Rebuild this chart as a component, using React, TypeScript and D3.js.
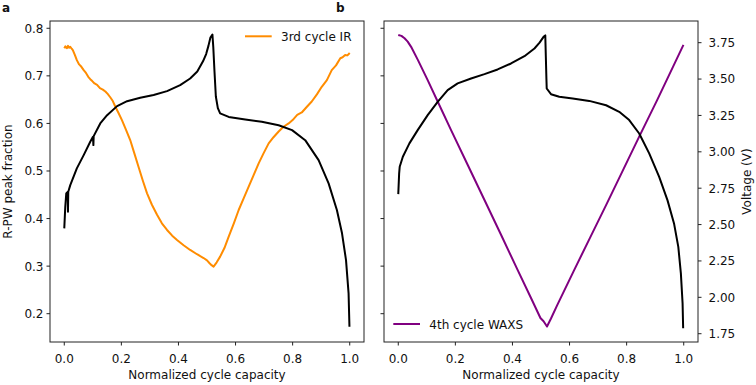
import React from 'react';
import * as d3 from 'd3';

// tick values
const capTicks = [0, 0.2, 0.4, 0.6, 0.8, 1.0];
const fracTicks = [0.2, 0.3, 0.4, 0.5, 0.6, 0.7, 0.8];
const voltTicks = [1.75, 2.0, 2.25, 2.5, 2.75, 3.0, 3.25, 3.5, 3.75];

// panel a: 3rd cycle IR (R-PW peak fraction)
const irCap = [0, 0.004, 0.009, 0.013, 0.017, 0.021, 0.026, 0.03, 0.037, 0.044, 0.052, 0.06, 0.068, 0.076, 0.084, 0.091,
    0.098, 0.106, 0.115, 0.125, 0.135, 0.144, 0.152, 0.161, 0.17, 0.179, 0.19, 0.202, 0.216, 0.231, 0.245, 0.26,
    0.275, 0.29, 0.307, 0.325, 0.342, 0.36, 0.378, 0.395, 0.418, 0.441, 0.465, 0.488, 0.5, 0.509, 0.516, 0.523,
    0.534, 0.546, 0.561, 0.576, 0.594, 0.611, 0.628, 0.646, 0.663, 0.681, 0.698, 0.716, 0.733, 0.751, 0.768, 0.786,
    0.8, 0.816, 0.832, 0.85, 0.867, 0.885, 0.902, 0.92, 0.937, 0.952, 0.967, 0.975, 0.984, 0.992, 1.0];
const irFrac = [0.758, 0.762, 0.758, 0.763, 0.759, 0.761, 0.757, 0.754, 0.744, 0.733, 0.724, 0.719, 0.712, 0.706, 0.698, 0.693,
    0.689, 0.684, 0.681, 0.674, 0.671, 0.667, 0.662, 0.655, 0.647, 0.635, 0.622, 0.607, 0.587, 0.565, 0.538, 0.509,
    0.48, 0.453, 0.429, 0.408, 0.39, 0.376, 0.364, 0.355, 0.344, 0.334, 0.325, 0.317, 0.312, 0.306, 0.302, 0.299,
    0.308, 0.32, 0.338, 0.362, 0.39, 0.418, 0.442, 0.467, 0.491, 0.516, 0.537, 0.558, 0.571, 0.583, 0.593, 0.6,
    0.607, 0.618, 0.623, 0.635, 0.646, 0.661, 0.677, 0.691, 0.712, 0.722, 0.737, 0.739, 0.744, 0.743, 0.748];

// panel a: voltage profile
const v3Cap = [0, 0.0035, 0.007, 0.012, 0.013, 0.014, 0.021, 0.044, 0.068, 0.091, 0.1005, 0.102, 0.103, 0.126, 0.15,
    0.185, 0.22, 0.266, 0.313, 0.36, 0.406, 0.441, 0.466, 0.486, 0.497, 0.505, 0.512, 0.519, 0.522, 0.526, 0.531,
    0.538, 0.546, 0.576, 0.634, 0.692, 0.751, 0.798, 0.844, 0.891, 0.926, 0.955, 0.973, 0.987, 0.996, 0.999];
const v3Volt = [2.474, 2.622, 2.714, 2.725, 2.588, 2.725, 2.771, 2.886, 2.977, 3.069, 3.103, 3.046, 3.108, 3.195, 3.252,
    3.314, 3.348, 3.371, 3.391, 3.417, 3.458, 3.504, 3.552, 3.622, 3.672, 3.728, 3.785, 3.806, 3.72, 3.561, 3.38,
    3.3, 3.264, 3.24, 3.222, 3.206, 3.183, 3.149, 3.08, 2.943, 2.783, 2.6, 2.44, 2.256, 2.027, 1.798];

// panel b: 4th cycle WAXS
const waxsCap = [0, 0.011, 0.022, 0.033, 0.045, 0.069, 0.103, 0.138, 0.185, 0.243, 0.302, 0.36, 0.418, 0.465, 0.498,
    0.509, 0.521, 0.535, 0.556, 0.614, 0.672, 0.731, 0.789, 0.847, 0.906, 0.964, 0.999];
const waxsFrac = [0.786, 0.784, 0.779, 0.772, 0.761, 0.733, 0.691, 0.646, 0.586, 0.513, 0.439, 0.366, 0.292, 0.233, 0.191,
    0.184, 0.173, 0.19, 0.217, 0.289, 0.36, 0.432, 0.504, 0.576, 0.648, 0.721, 0.765];

// panel b: voltage profile
const v4Cap = [0, 0.003, 0.005, 0.016, 0.039, 0.068, 0.103, 0.138, 0.173, 0.208, 0.255, 0.302, 0.348, 0.395, 0.442,
    0.477, 0.495, 0.509, 0.515, 0.517, 0.519, 0.52, 0.535, 0.564, 0.611, 0.669, 0.728, 0.774, 0.809, 0.844, 0.879,
    0.914, 0.943, 0.966, 0.981, 0.99, 0.996, 0.998];
const v4Volt = [2.709, 2.85, 2.897, 2.966, 3.058, 3.149, 3.252, 3.343, 3.424, 3.47, 3.504, 3.534, 3.566, 3.607, 3.657,
    3.71, 3.75, 3.79, 3.8, 3.65, 3.5, 3.435, 3.396, 3.378, 3.367, 3.35, 3.32, 3.275, 3.218, 3.126, 2.989,
    2.828, 2.668, 2.508, 2.347, 2.165, 1.959, 1.787];

const font = '"DejaVu Sans", sans-serif';
const fs = 12;
const top = 21, bottom = 342;

const pairs = (xs: number[], ys: number[]) => d3.range(Math.min(xs.length, ys.length)).map(i => [xs[i], ys[i]] as [number, number]);

const fracScale = d3.scaleLinear().domain([0.1405, 0.8153]).range([bottom, top]);
const voltScale = d3.scaleLinear().domain([1.693, 3.899]).range([bottom, top]);

const Panel = (props: any) => {
    const { left, right, label, fracX, fracY, voltX, voltY, color, legend, legendPos, showFracLabels, showVoltLabels } = props;
    const x = d3.scaleLinear().domain([-0.05, 1.05]).range([left, right]);
    const fracLine = d3.line<[number, number]>().x(d => x(d[0])).y(d => fracScale(d[1]));
    const voltLine = d3.line<[number, number]>().x(d => x(d[0])).y(d => voltScale(d[1]));

    return (
        <g>
            <path d={fracLine(pairs(fracX, fracY)) || ''} fill='none' stroke={color} strokeWidth={2} strokeLinejoin='round' />
            <path d={voltLine(pairs(voltX, voltY)) || ''} fill='none' stroke='black' strokeWidth={2} strokeLinejoin='round' />
            <rect x={left} y={top} width={right - left} height={bottom - top} fill='none' stroke='#222' strokeWidth={1} />

            {capTicks.map(t => (
                <g key={'xt' + t}>
                    <line x1={x(t)} x2={x(t)} y1={bottom} y2={bottom + 3.5} stroke='#222' />
                    <text x={x(t)} y={bottom + 20.5} textAnchor='middle' fontSize={fs} fontFamily={font} fill='#111'>{t.toFixed(1)}</text>
                </g>
            ))}
            {fracTicks.map(t => (
                <g key={'ft' + t}>
                    <line x1={left - 3.5} x2={left} y1={fracScale(t)} y2={fracScale(t)} stroke='#222' />
                    {showFracLabels && <text x={left - 6.5} y={fracScale(t) + 4.4} textAnchor='end' fontSize={fs} fontFamily={font} fill='#111'>{t.toFixed(1)}</text>}
                </g>
            ))}
            {showVoltLabels && voltTicks.map(t => (
                <g key={'vt' + t}>
                    <line x1={right} x2={right + 3.5} y1={voltScale(t)} y2={voltScale(t)} stroke='#222' />
                    <text x={right + 10.5} y={voltScale(t) + 4.4} fontSize={fs} fontFamily={font} fill='#111'>{t.toFixed(2)}</text>
                </g>
            ))}

            <text x={(left + right) / 2} y={379} textAnchor='middle' fontSize={fs} fontFamily={font} fill='#111'>Normalized cycle capacity</text>
            <text x={left - 48} y={11.7} fontSize={12} fontWeight='bold' fontFamily={font} fill='#111'>{label}</text>

            <line x1={legendPos[0]} x2={legendPos[0] + 26.7} y1={legendPos[1]} y2={legendPos[1]} stroke={color} strokeWidth={2} />
            <text x={legendPos[0] + 36} y={legendPos[1] + 4.5} fontSize={fs} fontFamily={font} fill='#111'>{legend}</text>
        </g>
    );
};

export default function App() {
    return (
        <svg width={756} height={385} style={{ position: 'absolute', left: 0, top: 0, background: 'white' }}>
            <Panel left={50} right={364} label='a' fracX={irCap} fracY={irFrac} voltX={v3Cap} voltY={v3Volt}
                color='#ff8c00' legend='3rd cycle IR' legendPos={[245, 36.3]} showFracLabels={true} showVoltLabels={false} />
            <Panel left={384} right={698} label='b' fracX={waxsCap} fracY={waxsFrac} voltX={v4Cap} voltY={v4Volt}
                color='#800080' legend='4th cycle WAXS' legendPos={[393.3, 324]} showFracLabels={false} showVoltLabels={true} />
            <text transform={`translate(12,${(top + bottom) / 2}) rotate(-90)`} textAnchor='middle' fontSize={fs} fontFamily={font} fill='#111'>R-PW peak fraction</text>
            <text transform={`translate(751,${(top + bottom) / 2}) rotate(-90)`} textAnchor='middle' fontSize={fs} fontFamily={font} fill='#111'>Voltage (V)</text>
        </svg>
    );
}
